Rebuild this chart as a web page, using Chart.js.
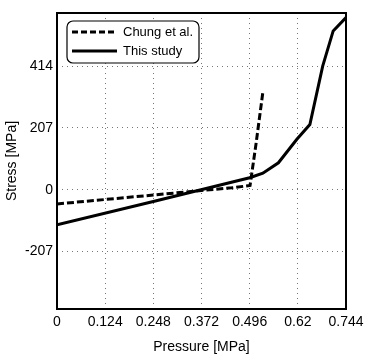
<!DOCTYPE html>
<html>
<head>
<meta charset="utf-8">
<script src="https://cdn.jsdelivr.net/npm/chart.js@4"></script>
<style>
  html, body { margin: 0; padding: 0; background: #fff; }
  #wrap { width: 371px; height: 360px; }
</style>
</head>
<body>
<div id="wrap"><canvas id="stressChart" width="371" height="360"></canvas></div>
<script>
// values
const chungPressure = [0, 0.124, 0.248, 0.372, 0.45, 0.497, 0.512, 0.53];
const chungStress = [-48, -33, -18, -3, 6, 14, 150, 327];
const studyPressure = [0, 0.248, 0.496, 0.53, 0.57, 0.617, 0.651, 0.684, 0.711, 0.744];
const studyStress = [-118, -40, 40, 55, 90, 168, 218, 414, 532, 577];
const xTicks = [0, 0.124, 0.248, 0.372, 0.496, 0.62, 0.744];
const yTicks = [-207, 0, 207, 414];

const toPoints = (xs, ys) => xs.map((x, i) => ({ x: x, y: ys[i] }));

// box round the plot, and the legend inside it (top left)
const framePlugin = {
  id: 'frame',
  afterDraw(chart) {
    const { ctx, chartArea } = chart;
    ctx.save();
    ctx.strokeStyle = '#000';
    ctx.lineWidth = 2;
    ctx.strokeRect(chartArea.left, chartArea.top, chartArea.right - chartArea.left, chartArea.bottom - chartArea.top);

    const bx = chartArea.left + 10, by = chartArea.top + 8;
    ctx.beginPath();
    ctx.roundRect(bx, by, 132, 42, 6);
    ctx.fillStyle = '#fff';
    ctx.fill();
    ctx.lineWidth = 1.2;
    ctx.stroke();

    ctx.font = '13px "Liberation Sans"';
    ctx.textBaseline = 'middle';
    chart.data.datasets.forEach((ds, i) => {
      const y = by + 11 + i * 19;
      ctx.beginPath();
      ctx.setLineDash(ds.borderDash ? [6, 3] : []);
      ctx.lineWidth = ds.borderWidth;
      ctx.strokeStyle = ds.borderColor;
      ctx.moveTo(bx + 5, y);
      ctx.lineTo(bx + 50, y);
      ctx.stroke();
      ctx.setLineDash([]);
      ctx.fillStyle = '#000';
      ctx.fillText(ds.label, bx + 56, y);
    });
    ctx.restore();
  }
};

const ctx = document.getElementById('stressChart').getContext('2d');
new Chart(ctx, {
  type: 'line',
  data: {
    datasets: [
      {
        label: 'Chung et al.',
        data: toPoints(chungPressure, chungStress),
        borderColor: '#000',
        borderWidth: 3,
        borderDash: [7, 3],
        pointRadius: 0,
        fill: false
      },
      {
        label: 'This study',
        data: toPoints(studyPressure, studyStress),
        borderColor: '#000',
        borderWidth: 3,
        pointRadius: 0,
        fill: false
      }
    ]
  },
  options: {
    responsive: false,
    animation: false,
    layout: { padding: { left: 0, top: 13, right: 25, bottom: 0 } },
    plugins: {
      tooltip: { enabled: false },
      legend: { display: false }
    },
    scales: {
      x: {
        type: 'linear',
        min: 0,
        max: 0.744,
        afterBuildTicks: axis => { axis.ticks = xTicks.map(v => ({ value: v })); },
        afterFit: axis => { axis.height = 51; },
        ticks: {
          color: '#000',
          padding: 5,
          maxRotation: 0,
          font: { family: 'Liberation Sans', size: 14 },
          callback: v => String(v)
        },
        grid: { color: '#777', lineWidth: 1, drawTicks: false },
        border: { display: false, dash: [1, 4] },
        title: {
          display: true,
          text: 'Pressure [MPa]',
          color: '#000',
          padding: { top: 4 },
          font: { family: 'Liberation Sans', size: 14 }
        }
      },
      y: {
        type: 'linear',
        min: -400,
        max: 592,
        afterBuildTicks: axis => { axis.ticks = yTicks.map(v => ({ value: v })); },
        afterFit: axis => { axis.width = 57; },
        ticks: {
          color: '#000',
          padding: 4,
          font: { family: 'Liberation Sans', size: 14 }
        },
        grid: { color: '#777', lineWidth: 1, drawTicks: false },
        border: { display: false, dash: [1, 4] },
        title: {
          display: true,
          text: 'Stress [MPa]',
          color: '#000',
          padding: { bottom: 2 },
          font: { family: 'Liberation Sans', size: 14 }
        }
      }
    }
  },
  plugins: [framePlugin]
});
</script>
</body>
</html>
